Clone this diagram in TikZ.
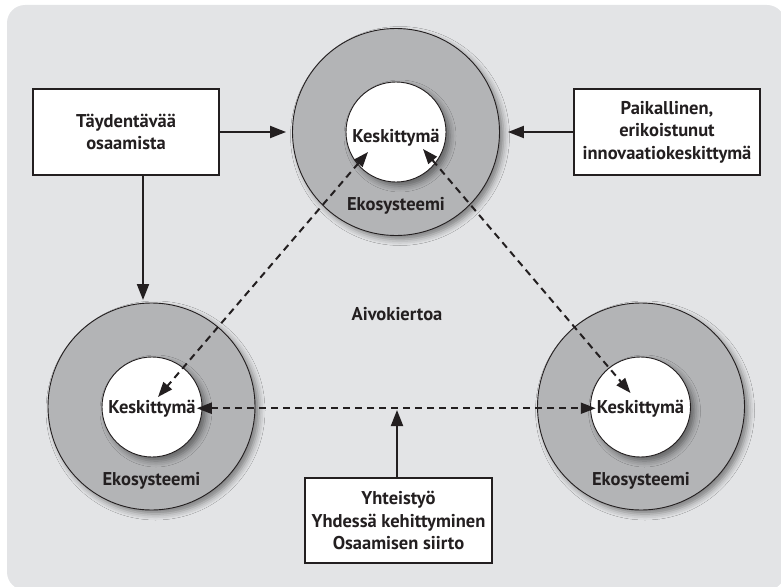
\documentclass[tikz,border=0pt]{standalone}
\usepackage{fontspec}
\setmainfont{PT Sans}
\usetikzlibrary{arrows.meta,shadows.blur}

\definecolor{panel}{RGB}{227,228,230}
\definecolor{ringgray}{RGB}{179,180,182}
\definecolor{ink}{RGB}{35,31,32}

\begin{document}
\begin{tikzpicture}[x=1pt,y=-1pt,
  lbl/.style={font=\bfseries\fontsize{18.5}{22.5}\selectfont, text=ink, inner sep=1pt, align=center},
  softshadow/.style={blur shadow={shadow xshift=4pt, shadow yshift=-4pt,
      shadow blur radius=6pt, shadow opacity=45}},
  ringc/.style={circle, draw=ink, line width=0.9pt, fill=ringgray,
      minimum size=207pt, inner sep=0pt, softshadow},
  corec/.style={circle, draw=ink, line width=0.9pt, fill=white,
      minimum size=100pt, inner sep=0pt, softshadow},
  infobox/.style={lbl, draw=ink, line width=1.2pt, fill=white,
      minimum width=186pt, minimum height=86pt},
  feed/.style={-{Triangle[length=16pt,width=12pt]}, line width=2pt, draw=ink},
  flow/.style={{Triangle[length=15pt,width=11pt]}-{Triangle[length=15pt,width=11pt]},
      dash pattern=on 7pt off 5pt, line width=2pt, draw=ink}
]
\useasboundingbox (0,0) rectangle (781,586);

% background panel
\begin{scope}
  \clip (0,0) rectangle (781,586);
  \fill[panel, rounded corners=18pt] (7,5) rectangle (785,590);
\end{scope}

% the three ecosystems
\node[ringc] (ringT) at (396,132) {};
\node[ringc] (ringL) at (151.5,406.5) {};
\node[ringc] (ringR) at (641,406.5) {};
\node[corec] (coreT) at (396,132) {};
\node[corec] (coreL) at (152,407) {};
\node[corec] (coreR) at (640.5,407) {};

\node[lbl, anchor=base] (kT) at (396,142) {Keskittymä};
\node[lbl, anchor=base] (kL) at (152,413) {Keskittymä};
\node[lbl, anchor=base] (kR) at (640.5,413) {Keskittymä};
\node[lbl, anchor=base] (eT) at (396,210) {Ekosysteemi};
\node[lbl, anchor=base] (eL) at (151.5,485) {Ekosysteemi};
\node[lbl, anchor=base] (eR) at (641,485) {Ekosysteemi};
\node[lbl, anchor=base] (aivo) at (397,320) {Aivokiertoa};

% text boxes
\node[infobox] (box1) at (126,132) {Täydentävää\\osaamista};
\node[infobox] (box2) at (667,132) {Paikallinen,\\erikoistunut\\innovaatiokeskittymä};
\node[infobox, minimum width=187pt, minimum height=85pt] (box3) at (398.5,520.5)
  {Yhteistyö\\Yhdessä kehittyminen\\Osaamisen siirto};

% end points of the dashed exchange arrows
\coordinate (tTL) at ([shift={(-28,20)}]coreT.center);
\coordinate (tTR) at ([shift={(27,17)}]coreT.center);
\coordinate (tL) at ([shift={(6,-10)}]coreL.center);
\coordinate (tR) at ([shift={(-10,-14)}]coreR.center);
\coordinate (down) at (143,300);
\coordinate (mid) at (397,410);

% brain circulation between the clusters
\draw[flow] (tTL) -- (tL);
\draw[flow] (tTR) -- (tR);
\draw[flow] (kL.east) -- (kR.west);

% inputs
\draw[feed, shorten >=6pt] (box1.east |- ringT.west) -- (ringT.west);
\draw[feed, shorten >=8pt] (box2.west |- ringT.east) -- (ringT.east);
\draw[feed] (box1.south -| down) -- (down);
\draw[feed] (box3.north -| mid) -- (mid);
\end{tikzpicture}
\end{document}
